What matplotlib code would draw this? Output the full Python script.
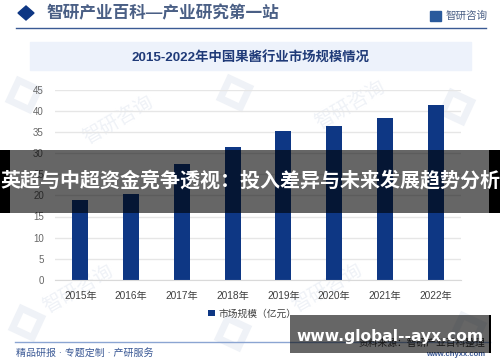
import matplotlib
matplotlib.use('Agg')
import matplotlib.pyplot as plt
from matplotlib.patches import Rectangle, Polygon

plt.rcParams['font.family'] = ['Liberation Sans', 'Noto Sans CJK SC', 'DejaVu Sans']

years = ['2015年', '2016年', '2017年', '2018年', '2019年', '2020年', '2021年', '2022年']
market_size = [19.0, 20.4, 27.3, 31.4, 35.3, 36.3, 38.2, 41.3]
y_ticks = [0, 5, 10, 15, 20, 25, 30, 35, 40, 45]
series_name = '市场规模（亿元）'

header_text = '智研产业百科—产业研究第一站'
brand_text = '智研咨询'
chart_title = '2015-2022年中国果酱行业市场规模情况'
footer_left = '精品研报 · 专题定制 · 产研服务'
footer_source = '资料来源：智研产业百科整理'
footer_url = 'www.chyxx.com'
banner_text = '英超与中超资金竞争透视：投入差异与未来发展趋势分析'
site_text = 'www.global--ayx.com'

NAVY = '#0e3784'
W, H = 500, 362

fig = plt.figure(figsize=(W / 100, H / 100), dpi=100, facecolor='white')

# page layer in pixel coords, below the chart
bg = fig.add_axes([0, 0, 1, 1], zorder=0)
bg.set_xlim(0, W)
bg.set_ylim(H, 0)
bg.axis('off')

# watermarks
wm_color = '#eff2f7'
for x, y in [(78, 289), (327, 288), (118, 120), (350, 105)]:
    bg.text(x, y, brand_text, color=wm_color, fontsize=14, rotation=30, ha='center', va='center')
for x, y in [(24, 95), (235, 93), (457, 107), (27, 323), (233, 333), (468, 330)]:
    bg.add_patch(Rectangle((x - 11, y - 11), 22, 22, angle=25, rotation_point='center',
                           fill=False, ec=wm_color, lw=5))

# header
bg.add_patch(Polygon([(18, 13), (26, 6), (34, 13), (26, 20)], color=NAVY))
bg.text(46, 13.5, header_text, color='#4a5f85', fontsize=12, ha='left', va='center', fontweight='bold')
bg.add_patch(Rectangle((430, 11), 11, 10, color='#2a5a9c'))
bg.text(446, 15.5, brand_text, color='#4a5f85', fontsize=7.6, ha='left', va='center')
bg.plot([16, 486], [27.5, 27.5], color='#3a5a94', lw=1)

# title band
bg.add_patch(Rectangle((30, 42), 441, 28, color='#edf2fb'))
bg.text(251, 58.5, chart_title, color='#1f3a78', fontsize=9.6, ha='center', va='center', fontweight='bold')

# footer
bg.plot([15, 490], [341.5, 341.5], color='#8ba5d2', lw=1)
bg.text(16, 353, footer_left, color='#3c5a96', fontsize=7.2, ha='left', va='center')
bg.text(485, 342.5, footer_source, color='#333333', fontsize=7, ha='right', va='center')
bg.text(485, 355, footer_url, color='#3c5a96', fontsize=5.5, ha='right', va='center', fontweight='bold')

# chart
ax = fig.add_axes([55 / W, 1 - 280 / H, 406 / W, 190.5 / H], zorder=1)
ax.patch.set_alpha(0)
bars = ax.bar(years, market_size, width=0.315, color=NAVY, label=series_name, zorder=2)
ax.set_xlim(-0.5, 7.5)
ax.set_ylim(0, 45)
ax.set_yticks(y_ticks)
ax.grid(axis='y', color='#e6e6e6', lw=1, zorder=0)
ax.set_axisbelow(True)
for s in ['top', 'right', 'left']:
    ax.spines[s].set_visible(False)
ax.spines['bottom'].set_color('#d9d9d9')
ax.tick_params(axis='both', length=0)
ax.tick_params(axis='y', labelsize=7, labelcolor='#666666', pad=8)
ax.tick_params(axis='x', labelsize=7.3, labelcolor='#404040', pad=8)
ax.legend(loc='center', bbox_to_anchor=(0.486, -0.175), frameon=False, fontsize=7,
          handlelength=0.7, handleheight=0.7, handletextpad=0.4, labelcolor='#404040',
          borderpad=0, borderaxespad=0)

# overlays on top of everything
top = fig.add_axes([0, 0, 1, 1], zorder=2)
top.set_xlim(0, W)
top.set_ylim(H, 0)
top.axis('off')
top.patch.set_alpha(0)
top.add_patch(Rectangle((0, 150), W, 63, color='black', alpha=0.6, lw=0))
top.add_patch(Rectangle((0, 150), 10, 63, color='black', lw=0))
top.add_patch(Rectangle((489, 150), 11, 63, color='black', lw=0))
top.text(250, 181, banner_text, color='white', fontsize=14.4, ha='center', va='center', fontweight='bold')
top.add_patch(Rectangle((290, 315), 199, 38, color='black', alpha=0.6, lw=0))
top.add_patch(Rectangle((489, 315), 1.5, 38, color='black', lw=0))
top.text(390, 336, site_text, color='white', fontsize=11.2, ha='center', va='center', fontweight='bold',
         family='DejaVu Sans')

fig.savefig('out.png', dpi=100)
